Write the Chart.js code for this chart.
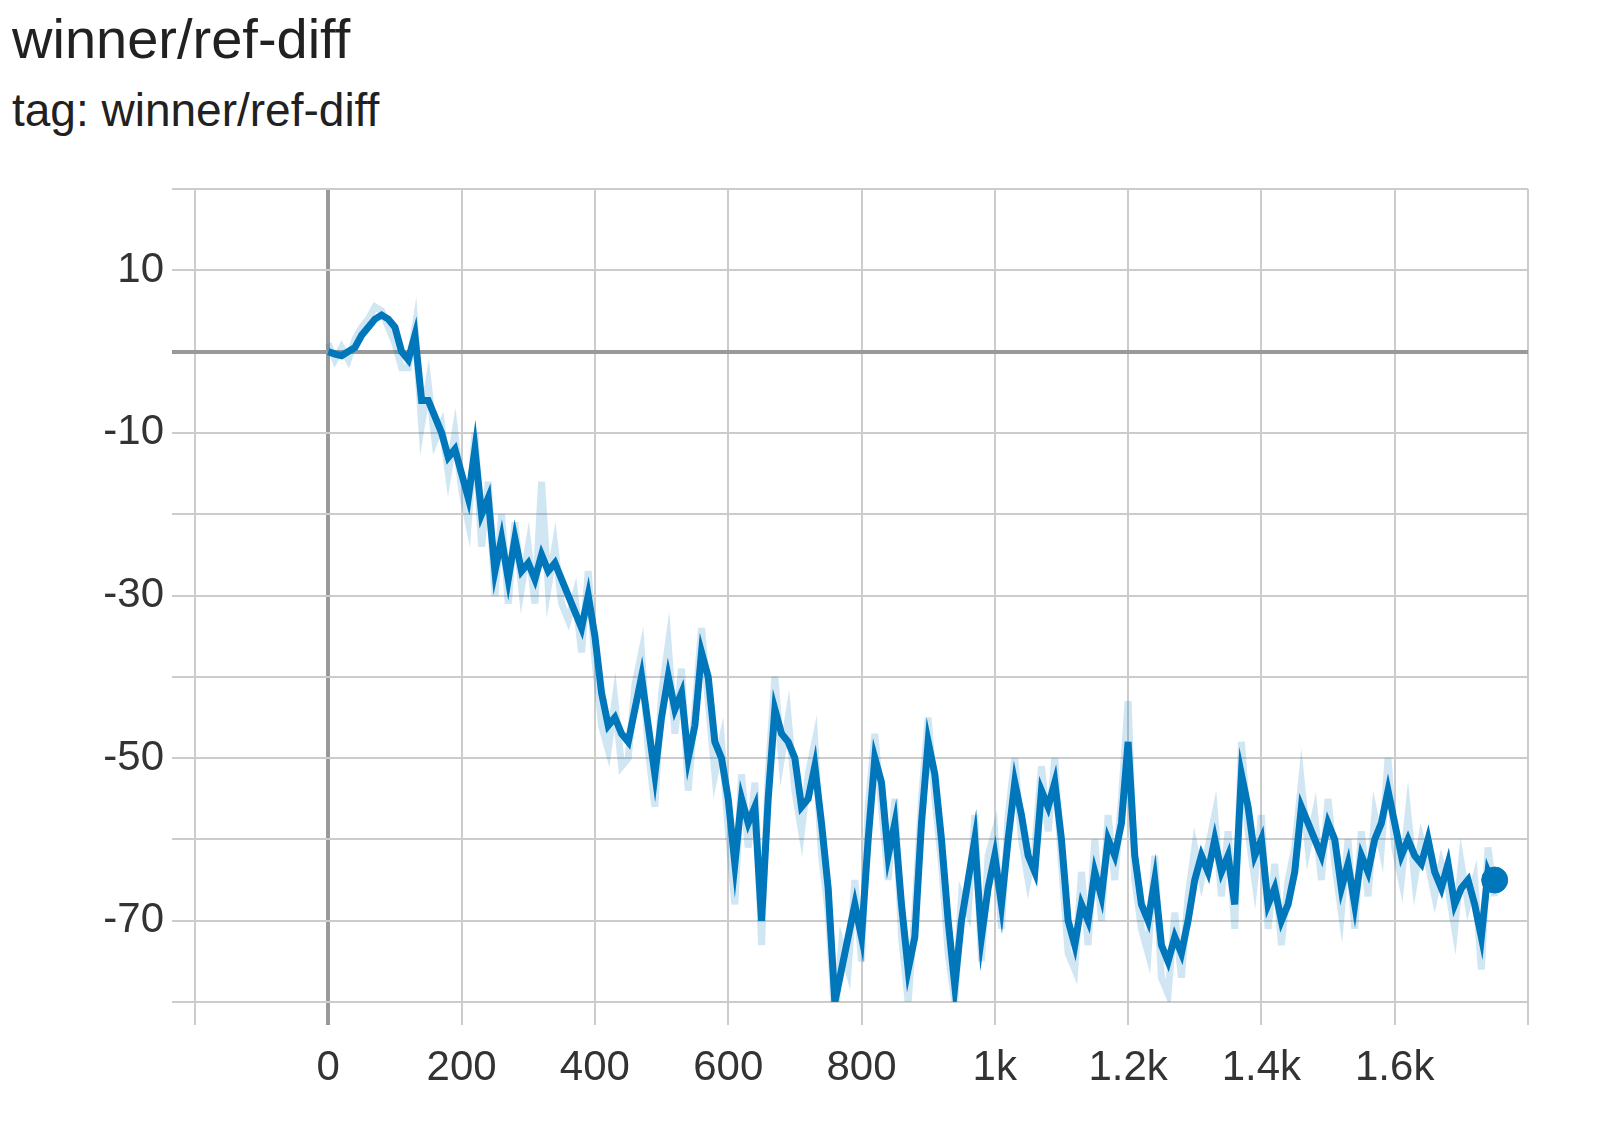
<!DOCTYPE html>
<html><head><meta charset="utf-8">
<script src="https://cdn.jsdelivr.net/npm/chart.js@4/dist/chart.umd.min.js"></script>
<style>
html,body{margin:0;padding:0;background:#fff;width:1600px;height:1147px;overflow:hidden;font-family:"Liberation Sans",sans-serif;color:#212121}
#t1{position:absolute;left:12px;top:6px;font-size:56px;line-height:66px}
#t2{position:absolute;left:12px;top:82px;font-size:46px;line-height:56px}
#wrap{position:absolute;left:0;top:0;width:1600px;height:1147px}
</style></head><body>
<div id="t1">winner/ref-diff</div>
<div id="t2">tag: winner/ref-diff</div>
<div id="wrap"><canvas id="c" width="1600" height="1147"></canvas></div>
<script>
const steps = [];
for (let s = 0; s <= 1750; s += 10) steps.push(s);
const smoothed = [0,-0.3,-0.5,0,0.5,2,3,4,4.5,4,3,0,-1,2,-6,-6,-8,-10,-13,-12,
-15,-18,-12,-20,-18,-27,-23,-28,-23,-27,-26,-28,-25,-27,-26,-28,-30,-32,-34,-30,
-35,-42,-46,-45,-47,-48,-44,-40,-46,-52,-45,-40,-44,-42,-50,-46,-37,-40,-48,-50,
-55,-63,-55,-58,-56,-70,-55,-44,-47,-48,-50,-56,-55,-51,-58,-66,-80,-76,-72,-68,
-72,-60,-50,-53,-62,-58,-68,-76,-72,-58,-48,-52,-60,-70,-78,-70,-65,-60,-72,-66,
-62,-68,-60,-53,-57,-62,-64,-54,-56,-53,-60,-70,-73,-68,-70,-64,-67,-60,-62,-58,
-48,-62,-68,-70,-65,-73,-75,-72,-74,-70,-65,-62,-64,-60,-64,-62,-68,-52,-56,-62,
-60,-68,-66,-70,-68,-64,-56,-58,-60,-62,-58,-60,-66,-63,-68,-62,-64,-60,-58,-54,
-58,-62,-60,-62,-63,-60,-64,-66,-63,-68,-66,-65,-68,-72,-64,-66];
const raw = [1,-1,0.5,-1,1.5,3,4,5.5,5,3,1,-2,-2,3,-9,-4,-11,-9,-15,-10,
-17,-21,-10,-24,-16,-30,-20,-31,-21,-29,-24,-31,-16,-29,-24,-31,-33,-30,-37,-27,
-38,-46,-49,-43,-51,-50,-41,-37,-49,-56,-42,-36,-47,-39,-54,-44,-34,-43,-52,-48,
-59,-68,-52,-61,-53,-73,-52,-40,-50,-45,-54,-59,-52,-48,-62,-69,-82,-73,-76,-65,
-75,-56,-47,-56,-65,-55,-72,-80,-69,-55,-45,-55,-63,-74,-80,-67,-69,-57,-75,-62,
-59,-71,-57,-50,-60,-65,-61,-51,-59,-50,-63,-74,-76,-64,-73,-60,-70,-57,-65,-55,
-43,-65,-71,-74,-62,-77,-79,-69,-77,-67,-61,-65,-61,-57,-67,-59,-71,-48,-59,-65,
-57,-71,-63,-73,-65,-61,-53,-61,-57,-65,-55,-63,-69,-60,-71,-59,-67,-57,-61,-50,
-61,-65,-57,-65,-60,-63,-67,-63,-66,-71,-63,-68,-65,-76,-61,-67];
const xTickLabels = {0:'0',200:'200',400:'400',600:'600',800:'800',1000:'1k',1200:'1.2k',1400:'1.4k',1600:'1.6k'};
const yTickLabels = {10:'10','-10':'-10','-30':'-30','-50':'-50','-70':'-70'};
const lastPoint = [{x:1750,y:-65}];

const blue = '#0077bb';
new Chart(document.getElementById('c'), {
  type:'line',
  data:{datasets:[
    {data:steps.map((s,i)=>({x:s,y:raw[i]})),borderColor:'rgba(0,119,187,0.18)',borderWidth:7,pointRadius:0,tension:0},
    {data:steps.map((s,i)=>({x:s,y:smoothed[i]})),borderColor:blue,borderWidth:7,pointRadius:0,tension:0},
    {data:lastPoint,borderColor:blue,backgroundColor:blue,pointRadius:13,showLine:false}
  ]},
  options:{
    responsive:false,animation:false,devicePixelRatio:1,
    layout:{padding:{top:189,right:72,left:0,bottom:0}},
    plugins:{legend:{display:false},tooltip:{enabled:false}},
    scales:{
      x:{type:'linear',min:-200,max:1800,
        afterFit(a){a.height=145;},
        ticks:{stepSize:200,autoSkip:false,maxRotation:0,padding:18,color:'#333',font:{family:'Liberation Sans',size:42},
          callback:v=>xTickLabels[v]||''},
        grid:{color:c=>c.tick&&c.tick.value===0?'#999':'#ccc',lineWidth:c=>c.tick&&c.tick.value===0?4:2,tickLength:23},
        border:{display:false}},
      y:{type:'linear',min:-80,max:20,
        afterFit(a){a.width=195;},
        ticks:{stepSize:10,autoSkip:false,padding:8,color:'#333',font:{family:'Liberation Sans',size:42},
          callback:v=>yTickLabels[v]||''},
        grid:{color:c=>c.tick&&c.tick.value===0?'#999':'#ccc',lineWidth:c=>c.tick&&c.tick.value===0?4:2,tickLength:23},
        border:{display:false}}
    }
  }
});
</script>
</body></html>
